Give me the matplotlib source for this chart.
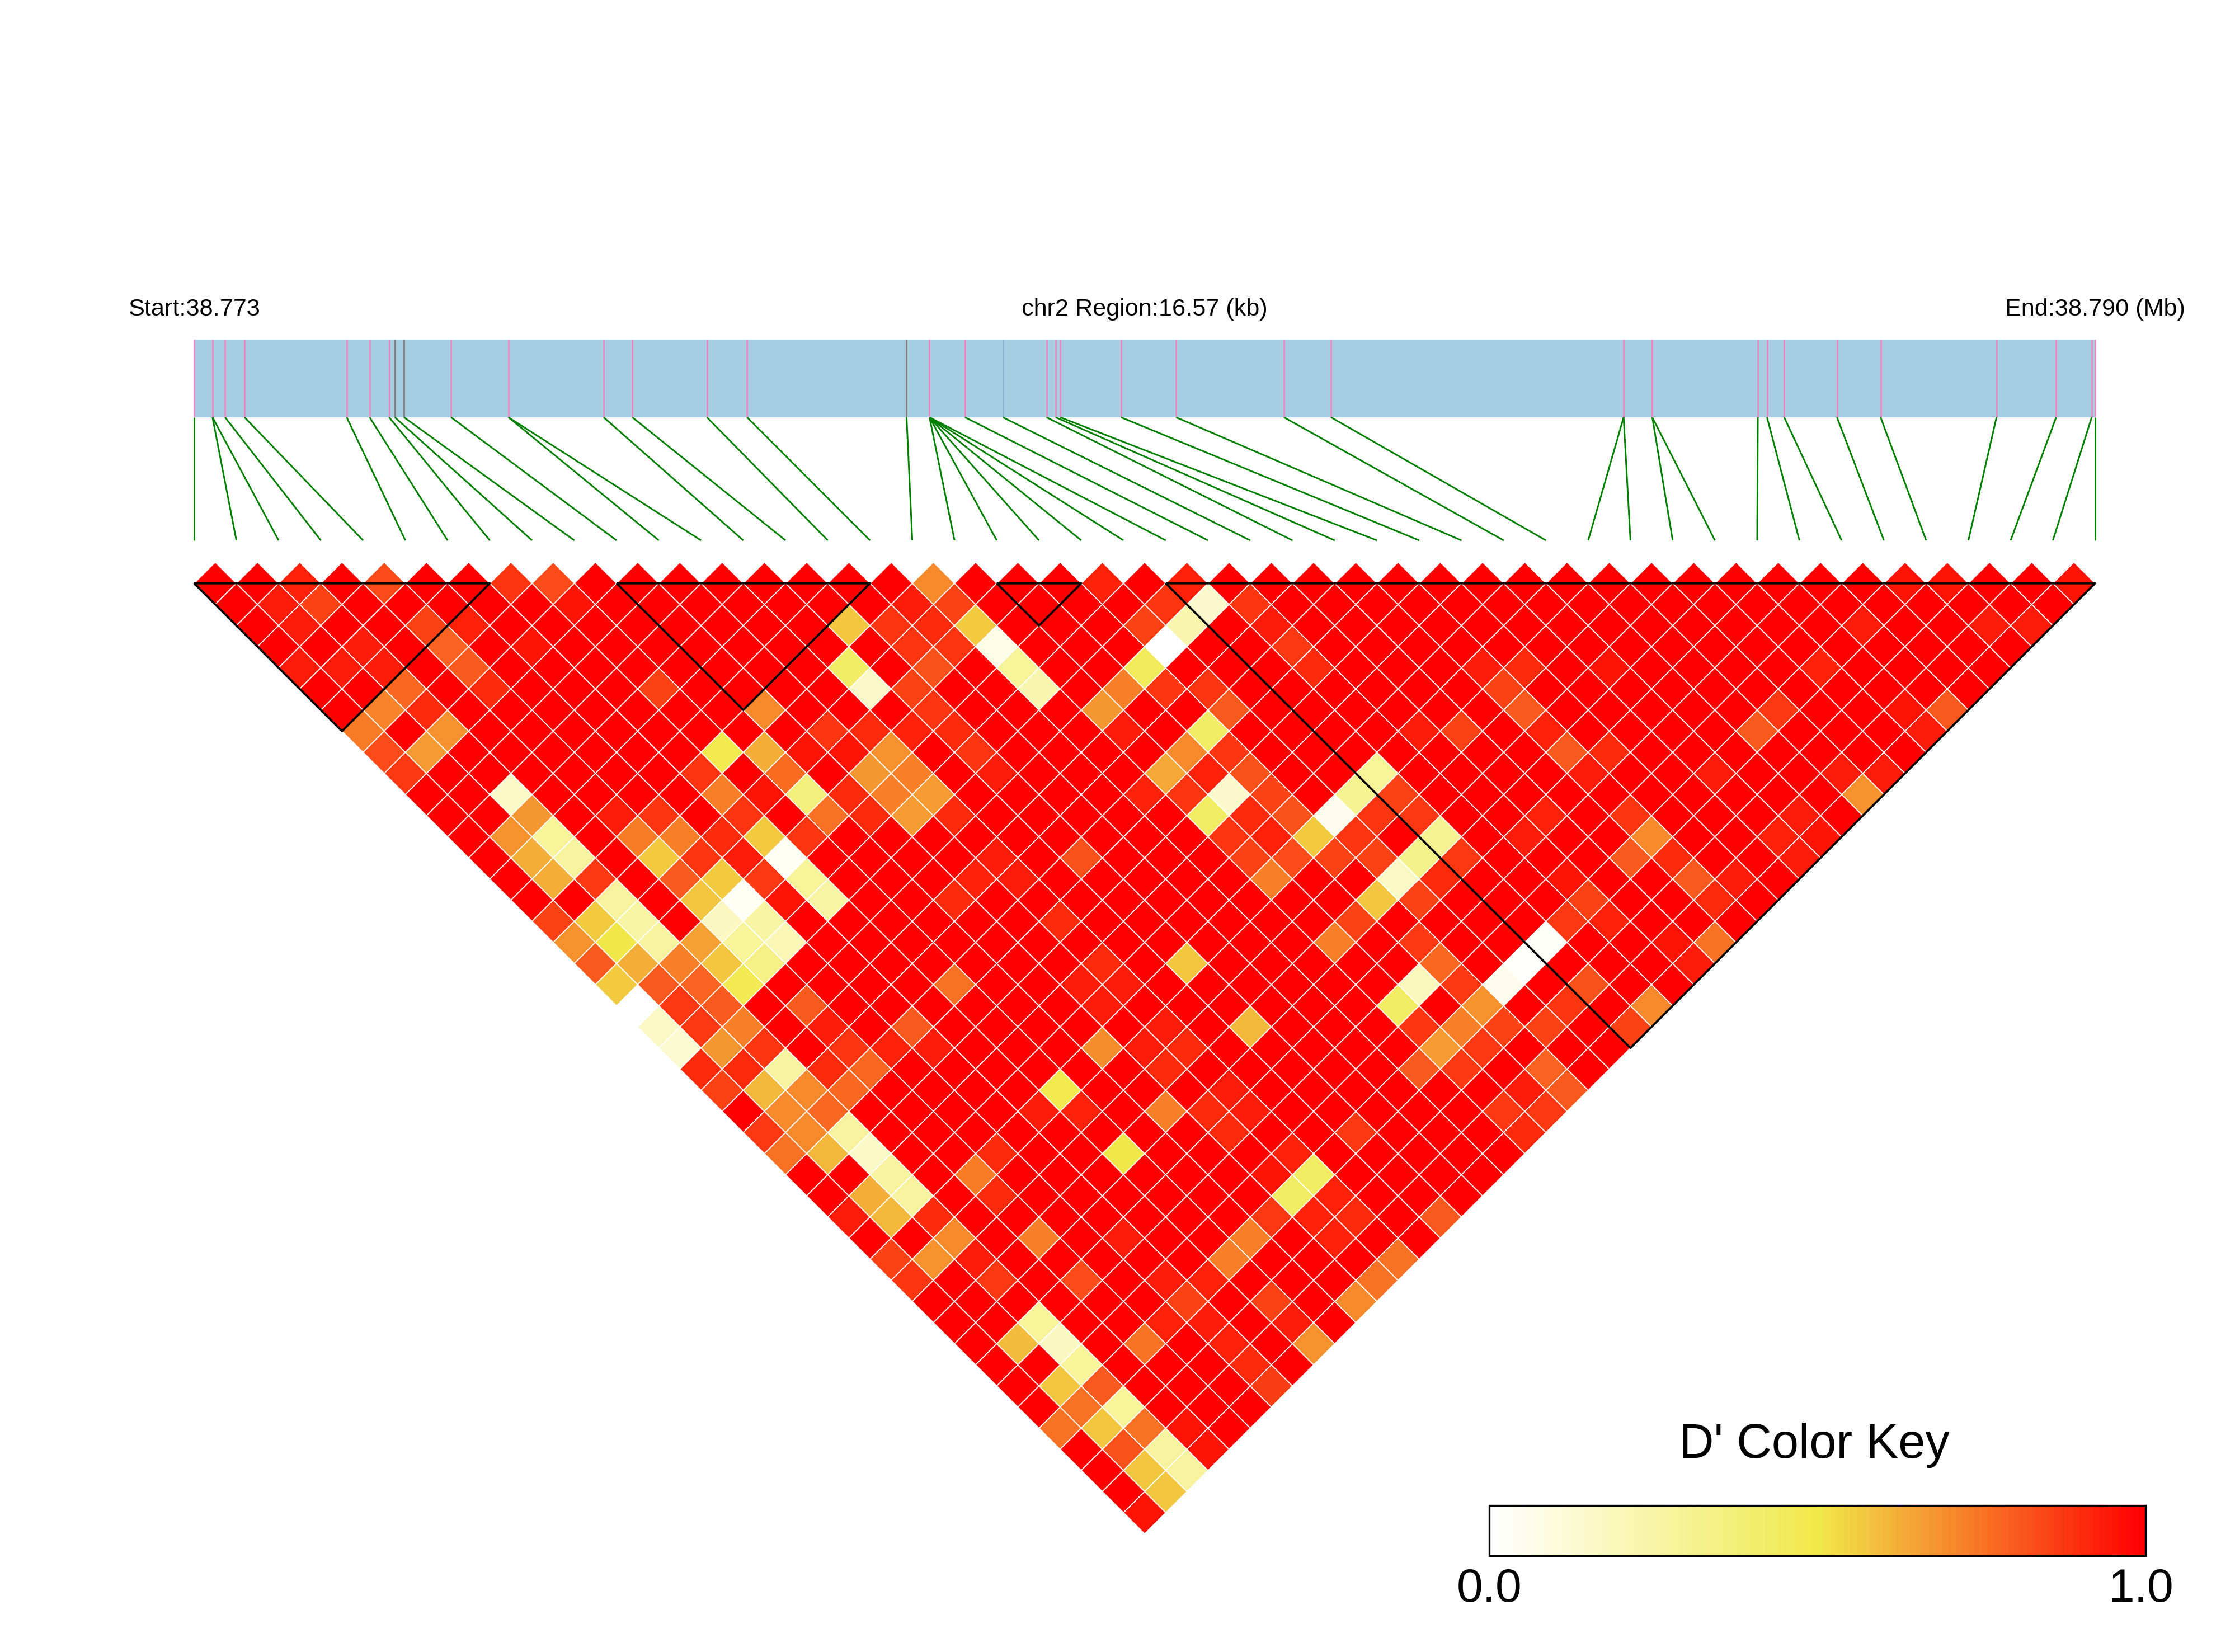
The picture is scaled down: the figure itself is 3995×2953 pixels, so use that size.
import matplotlib
matplotlib.use("Agg")
import matplotlib.pyplot as plt
import numpy as np
from matplotlib.collections import PolyCollection, LineCollection
from matplotlib.colors import LinearSegmentedColormap, Normalize
from matplotlib.patches import Rectangle

plt.rcParams['font.family'] = ['Liberation Sans', 'DejaVu Sans']

# --- DATA ---
n_snps = 46
start_label = "Start:38.773"
region_label = "chr2 Region:16.57 (kb)"
end_label = "End:38.790 (Mb)"
key_title = "D' Color Key"
key_ticks = ["0.0", "1.0"]
region_kb = 16.57

snp_kb = [0.00, 0.16, 0.16, 0.27, 0.44, 1.33, 1.53, 1.70, 1.75, 1.83, 2.24, 2.74, 2.74, 3.57, 3.82, 4.47,
          4.82, 6.21, 6.41, 6.41, 6.41, 6.41, 6.41, 6.41, 6.72, 7.05, 7.43, 7.51, 7.55, 8.08, 8.56, 9.50,
          9.91, 12.46, 12.46, 12.71, 12.71, 13.63, 13.71, 13.86, 14.32, 14.70, 15.71, 16.23, 16.54, 16.57]
gray_snps = [8, 9, 17]
faint_snps = [25]

# haplotype blocks as (first SNP, last SNP)
blocks = [(0, 7), (10, 16), (19, 21), (23, 45)]

# D' cells that are not 1.0, as (i, j, value)
cells_adjacent = [(2,3,.92),(4,5,.83),(7,8,.88),(8,9,.83),(17,18,.7),(21,22,.92),(23,24,.92),(40,41,.95),
                  (41,42,.95),(44,45,.95)]
cells_block_one = [(1,3,.93),(2,4,.85),(8,10,.95),(1,4,.93),(4,7,.85),(5,8,.92),(2,6,.93),(4,8,.78),(6,10,.95),
                   (0,5,.93),(1,6,.93),(2,7,.93),(4,9,.8)]
cells_left = [(0,8,.73),(1,8,.71),(2,8,.77),(0,9,.83),(2,9,.9),(2,10,.68),(1,10,.66),(0,10,.87),(4,10,.9),
              (2,13,.16),(2,14,.67),(1,14,.68),(2,15,.28),(2,16,.27),(1,15,.62),(1,16,.62),(2,17,.87),(2,18,.27),
              (1,18,.56),(0,17,.85),(0,18,.68),(1,19,.5),(0,19,.8),(0,20,.57),(2,19,.25),(1,20,.62),(4,16,.93),
              (4,17,.73),(4,18,.56),(5,18,.72),(5,19,.88),(4,19,.8),(5,20,.57),(4,20,.58),(5,21,.03),(6,19,.9),
              (6,20,.93),(6,21,.87),(6,22,.95),(7,19,.88),(7,20,.57),(8,21,.88),(7,21,.03),(7,22,.28),(7,23,.25),
              (8,19,.95),(3,21,.65),(4,21,.17),(4,22,.28),(5,22,.25),(5,23,.2),(2,20,.27),(2,21,.72),(3,22,.58),
              (4,23,.33),(3,23,.47),(2,22,.78),(1,21,.8),(1,22,.87),(2,23,.8),(0,21,.0),(0,22,.16),(0,23,.13),
              (1,23,.87),(1,24,.67),(2,24,.72),(2,25,.88),(2,26,.27),(4,25,.8),(5,17,.88)]
cells_lower_left = [(0,24,.9),(0,25,.85),(1,25,.9),(1,26,.6),(2,27,.7),(1,27,.7),(2,28,.77),(0,27,.87),(0,28,.75),
                    (1,28,.7),(1,29,.6),(2,29,.27),(2,30,.16),(2,31,.27),(2,32,.27),(1,31,.62),(1,32,.6),(2,33,.9),
                    (2,34,.7),(1,34,.68),(0,33,.85),(0,34,.88),(0,31,.93),(2,35,.93),(2,36,.87),(4,33,.73),(4,34,.9),
                    (4,36,.72),(4,38,.83),(2,38,.28),(2,39,.17),(2,40,.28),(1,38,.59),(1,40,.58),(0,41,.75),(2,41,.8),
                    (1,41,.75),(1,42,.58),(2,42,.28),(2,43,.75),(2,44,.27),(2,45,.27),(3,45,.95),(3,44,.95),(1,44,.58),
                    (1,43,.82),(1,45,.58),(0,45,.95),(4,26,.93),(3,27,.9),(4,27,.88),(4,28,.77),(3,28,.77),(5,28,.92),
                    (6,28,.8),(6,29,.93),(5,33,.9),(7,33,.93)]
cells_centre = [(8,14,.85),(14,17,.58),(13,18,.42),(13,19,.15),(10,17,.7),(8,17,.48),(9,18,.62),(9,20,.36),(9,19,.76),
                (7,17,.88),(7,18,.72),(15,18,.88),(16,18,.93),(16,19,.9),(11,19,.88),(11,20,.95),(10,19,.95),(12,20,.9),
                (12,21,.68),(11,21,.67),(12,22,.72),(11,22,.72),(12,23,.66),(11,23,.66),(9,21,.75),(10,21,.9),(10,22,.9),
                (8,28,.75),(10,26,.9),(8,33,.48),(8,34,.92),(10,33,.69),(8,36,.5),(12,24,.9),(12,26,.93),(12,27,.93),
                (11,26,.92),(12,29,.9),(12,31,.9),(11,31,.93),(12,32,.93),(11,32,.93),(12,34,.93),(11,34,.93),(12,35,.9),
                (11,35,.9),(14,28,.82),(14,33,.58),(14,36,.6),(10,36,.72),(11,37,.9),(12,37,.93),(12,38,.93),(11,38,.9),
                (14,41,.87),(12,41,.43),(11,41,.43),(9,41,.72),(8,41,.72),(10,41,.87),(11,40,.95),(12,40,.92),(6,38,.93),
                (6,41,.85),(6,40,.93),(7,41,.92),(8,43,.85),(8,44,.93),(5,41,.92),(4,41,.75),(6,42,.93),(6,43,.92),(6,44,.9),
                (6,45,.86),(8,45,.68),(10,45,.7),(11,45,.75),(12,45,.75),(14,45,.8),(11,43,.92),(11,42,.92),(12,42,.92),
                (12,43,.9),(14,21,.88),(14,20,.85),(14,22,.9),(14,23,.88),(14,24,.93),(13,21,.92),(15,19,.88),(15,20,.82),
                (16,20,.88)]
cells_upper_mid = [(17,19,.85),(17,20,.56),(17,21,.07),(17,22,.28),(17,23,.22),(21,24,.85),(22,24,.88),(23,25,.14),
                   (24,26,.88),(22,25,.22),(21,25,.0),(20,25,.45),(19,25,.72),(18,25,.67),(20,26,.88),(21,27,.88),
                   (21,28,.8),(20,28,.42),(20,29,.88),(19,28,.7),(18,28,.63),(19,29,.92),(18,29,.88),(19,30,.14),
                   (18,30,.43),(20,30,.82),(19,31,.9),(20,31,.85),(18,31,.88),(19,32,.92),(20,32,.82),(20,33,.57),
                   (21,33,.05),(22,33,.3),(23,33,.28),(22,34,.88),(21,34,.88),(21,35,.85),(20,34,.85),(19,33,.83),
                   (18,33,.72),(18,32,.85),(18,26,.93),(17,28,.92),(24,28,.87),(24,29,.9),(24,27,.93)]
cells_lower_mid = [(22,36,.32),(21,36,.16),(20,36,.58),(19,36,.85),(18,36,.72),(23,36,.3),(23,37,.87),(21,37,.85),
                   (22,37,.9),(20,38,.87),(20,39,.77),(19,39,.18),(18,39,.43),(20,40,.87),(20,41,.68),(19,41,.72),
                   (18,41,.66),(18,40,.88),(17,41,.8),(18,42,.87),(23,41,.02),(22,41,.01),(21,41,.05),(24,41,.87),
                   (25,41,.85),(23,43,.82),(22,43,.88),(21,43,.85),(20,42,.85),(19,42,.87),(20,44,.78),(20,45,.8),
                   (18,44,.87),(19,44,.93),(18,45,.9),(19,45,.87),(23,35,.87),(23,34,.85)]
cells_right = [(38,41,.93),(41,44,.93),(42,45,.93),(36,41,.92),(28,33,.93),(29,34,.9),(31,36,.95),(28,34,.85),(28,35,.8),
               (28,36,.92),(26,34,.85),(25,33,.93),(28,37,.8),(29,38,.9),(28,38,.93),(34,41,.87),(33,41,.8),(38,45,.8),
               (37,45,.93),(37,44,.95),(34,45,.68),(35,45,.93),(34,44,.93),(31,41,.93),(32,44,.93),(32,45,.95),(31,44,.92),
               (31,45,.93),(28,41,.7),(28,40,.88),(27,41,.8),(28,42,.9),(28,43,.8),(28,44,.9),(29,44,.93),(26,38,.92),
               (25,38,.93),(25,40,.95),(25,42,.92),(27,45,.75),(26,45,.93),(26,44,.95),(24,45,.7),(23,45,.85)]
all_cells = (cells_adjacent + cells_block_one + cells_left + cells_lower_left + cells_centre
             + cells_upper_mid + cells_lower_mid + cells_right)

# --- LAYOUT (pixels of the 3995 x 2953 canvas) ---
W, H = 3995, 2953
dpi = 300
X0, X1 = 347.0, 3745.0
TOP = 1042.7
STEP = (X1 - X0) / (n_snps - 1) / 2
BAR_TOP, BAR_BOT, LINK_BOT = 607.0, 746.0, 966.0

key_stops = [(0.0, '#FFFFFF'), (0.5, '#F0E94A'), (1.0, '#FF0000')]
cmap = LinearSegmentedColormap.from_list('dprime', key_stops, N=100)
norm = Normalize(0, 1)

fig = plt.figure(figsize=((W + 0.01) / dpi, (H + 0.01) / dpi), dpi=dpi, facecolor='white')
ax = fig.add_axes([0, 0, 1, 1])
ax.set_xlim(0, W)
ax.set_ylim(H, 0)
ax.axis('off')

# gene bar
ax.add_patch(Rectangle((X0, BAR_TOP), X1 - X0, BAR_BOT - BAR_TOP, fc='#A6CEE3', ec='none', zorder=1))
kb_x = [X0 + k / region_kb * (X1 - X0) for k in snp_kb]
for idx, x in enumerate(kb_x):
    col = '#808080' if idx in gray_snps else '#8FB4CC' if idx in faint_snps else '#E78AC3'
    ax.plot([x, x], [BAR_TOP, BAR_BOT], color=col, lw=0.7, solid_capstyle='butt', zorder=2)
    end = X0 + 2 * STEP * idx
    ax.plot([x, end], [BAR_BOT, LINK_BOT], color='#008000', lw=0.7, solid_capstyle='butt', zorder=2)

# heatmap cells
values = {}
for i in range(n_snps):
    for j in range(i + 1, n_snps):
        values[(i, j)] = 1.0
for i, j, v in all_cells:
    values[(i, j)] = v

polys, vals = [], []
for (i, j), v in values.items():
    cx = X0 + (i + j) * STEP
    cy = TOP + (j - i - 1) * STEP
    polys.append([(cx - STEP, cy), (cx, cy - STEP), (cx + STEP, cy), (cx, cy + STEP)])
    vals.append(v)
pc = PolyCollection(polys, array=np.array(vals), cmap=cmap, norm=norm, edgecolors='white',
                    linewidths=0.42, zorder=3)
ax.add_collection(pc)

# haplotype block triangles
segs = []
for a, b in blocks:
    xa = X0 + 2 * STEP * a
    xb = X0 + 2 * STEP * b
    xm = (xa + xb) / 2
    ym = TOP + (b - a) * STEP
    segs.append([(xa, TOP), (xb, TOP), (xm, ym), (xa, TOP)])
ax.add_collection(LineCollection(segs, colors='black', linewidths=0.9, zorder=4))

# header text
ax.text(X0, 553, start_label, ha='center', va='center', fontsize=10.4, color='black')
ax.text((X0 + X1) / 2, 553, region_label, ha='center', va='center', fontsize=10.4, color='black')
ax.text(X1, 553, end_label, ha='center', va='center', fontsize=10.4, color='black')

# colour key
KX0, KX1, KY0, KY1 = 2662.0, 3835.0, 2691.0, 2781.0
edges = np.linspace(KX0, KX1, 101)
grad = np.linspace(0, 1, 100)[None, :]
ax.pcolormesh(edges, [KY0, KY1], grad, cmap=cmap, norm=norm, zorder=3, linewidth=0, rasterized=True)
ax.add_patch(Rectangle((KX0, KY0), KX1 - KX0, KY1 - KY0, fc='none', ec='black', lw=0.8, zorder=4))
ax.set_xlim(0, W)
ax.set_ylim(H, 0)
ax.text(3243, 2583, key_title, ha='center', va='center', fontsize=20.8, color='black')
ax.text(KX0, 2841, key_ticks[0], ha='center', va='center', fontsize=20.2, color='black')
ax.text(KX1 - 8, 2841, key_ticks[1], ha='center', va='center', fontsize=20.2, color='black')

fig.savefig('out.png', dpi=dpi, facecolor='white')
